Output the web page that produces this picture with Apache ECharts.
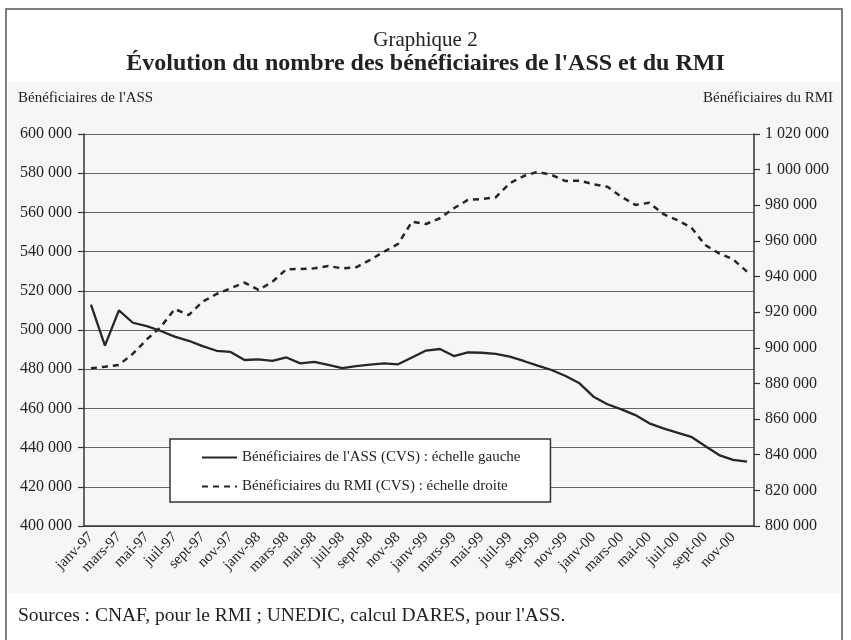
<!DOCTYPE html>
<html>
<head>
<meta charset="utf-8">
<script src="https://cdn.jsdelivr.net/npm/echarts@6/dist/echarts.min.js"></script>
<style>
  html, body { margin: 0; padding: 0; background: #fff; }
  #chart { width: 851px; height: 640px; }
</style>
</head>
<body>
<div id="chart"></div>
<script>
// mois, janv-97 a dec-00
var moisNoms = ['janv', 'févr', 'mars', 'avr', 'mai', 'juin', 'juil', 'août', 'sept', 'oct', 'nov', 'déc'];
var annees = ['97', '98', '99', '00'];
var mois = [];
annees.forEach(function (a) {
    moisNoms.forEach(function (m) { mois.push(m + '-' + a); });
});

// beneficiaires de l'ASS (echelle gauche)
var ass = [513000, 492000, 510000, 503700, 502000, 499500, 496600, 494500, 491800, 489400, 488800, 484700,
           485000, 484300, 486000, 483000, 483700, 482200, 480500, 481600, 482300, 483000, 482500, 486000,
           489500, 490300, 486700, 488600, 488400, 487800, 486400, 484200, 481800, 479600, 476500, 472800,
           466000, 462100, 459500, 456600, 452400, 449800, 447600, 445500, 440800, 436200, 433700, 432800];

// beneficiaires du RMI (echelle droite)
var rmi = [888500, 889400, 890400, 896700, 904700, 911700, 921800, 918400, 925900, 930200, 933400, 936600,
           932500, 937100, 944100, 944200, 944600, 945900, 944600, 945200, 949300, 954000, 958300, 970800,
           969500, 972700, 978300, 983000, 983500, 984500, 992300, 996400, 998800, 997000, 993600, 993800,
           991800, 990400, 984800, 980200, 981400, 975100, 971700, 967600, 957700, 953000, 949700, 942700];

var gaucheMin = 400000, gaucheMax = 600000;
var droiteMin = 800000, droiteMax = 1020000;
var pas = 20000;

var police = "'Liberation Serif', 'Times New Roman', serif";
var encre = '#222';

function milliers(v) {
    return String(v).replace(/\B(?=(\d{3})+(?!\d))/g, ' ');
}

var myChart = echarts.init(document.getElementById('chart'));
var option = {
    backgroundColor: '#fff',
    animation: false,
    title: {
        text: 'Graphique 2',
        subtext: "Évolution du nombre des bénéficiaires de l'ASS et du RMI",
        left: 'center',
        top: 30,
        padding: 0,
        itemGap: 1,
        textStyle: { fontFamily: police, fontSize: 21, fontWeight: 'normal', color: encre },
        subtextStyle: { fontFamily: police, fontSize: 24, fontWeight: 'bold', color: encre }
    },
    graphic: [
        {
            type: 'rect', z: -10, silent: true,
            shape: { x: 8, y: 82, width: 832, height: 511 },
            style: { fill: '#f6f6f6' }
        },
        {
            type: 'rect', z: -5, silent: true,
            shape: { x: 6, y: 9, width: 836, height: 700 },
            style: { fill: 'none', stroke: '#555', lineWidth: 1.5 }
        },
        {
            type: 'text', left: 18, top: 91,
            style: { text: "Bénéficiaires de l'ASS", font: '15px ' + police, fill: encre }
        },
        {
            type: 'text', right: 18, top: 91,
            style: { text: 'Bénéficiaires du RMI', font: '15px ' + police, fill: encre }
        },
        {
            type: 'text', left: 18, top: 606,
            style: { text: "Sources : CNAF, pour le RMI ; UNEDIC, calcul DARES, pour l'ASS.", font: '19.5px ' + police, fill: encre }
        }
    ],
    legend: {
        orient: 'vertical',
        left: 170,
        top: 439,
        backgroundColor: '#fff',
        borderColor: '#333',
        borderWidth: 1.5,
        borderRadius: 0,
        padding: [11, 30, 8, 31],
        itemGap: 14,
        itemWidth: 35,
        itemHeight: 14,
        itemStyle: { opacity: 0 },
        textStyle: { fontFamily: police, fontSize: 15, color: encre }
    },
    grid: { left: 84, right: 97, top: 134, bottom: 114 },
    xAxis: {
        type: 'category',
        data: mois,
        boundaryGap: true,
        axisLine: { lineStyle: { color: '#333', width: 1.5 } },
        axisTick: { interval: 1, length: 7, lineStyle: { color: '#333', width: 1.2 } },
        axisLabel: {
            interval: 1, rotate: 45, margin: 9,
            fontFamily: police, fontSize: 15, color: encre
        },
        splitLine: { show: false }
    },
    yAxis: [
        {
            type: 'value',
            min: gaucheMin, max: gaucheMax, interval: pas,
            axisLine: { show: true, lineStyle: { color: '#333', width: 1.5 } },
            axisTick: { show: true, length: 6, lineStyle: { color: '#333', width: 1.2 } },
            axisLabel: { margin: 12, fontFamily: police, fontSize: 16, color: encre, formatter: milliers },
            splitLine: { lineStyle: { color: '#666', width: 1.2 } }
        },
        {
            type: 'value',
            min: droiteMin, max: droiteMax, interval: pas,
            position: 'right',
            axisLine: { show: true, lineStyle: { color: '#333', width: 1.5 } },
            axisTick: { show: true, length: 6, lineStyle: { color: '#333', width: 1.2 } },
            axisLabel: { margin: 11, fontFamily: police, fontSize: 16, color: encre, formatter: milliers },
            splitLine: { show: false }
        }
    ],
    series: [
        {
            name: "Bénéficiaires de l'ASS (CVS) : échelle gauche",
            type: 'line',
            yAxisIndex: 0,
            data: ass,
            symbol: 'none',
            itemStyle: { color: '#262626' },
            lineStyle: { color: '#262626', width: 2.3, type: 'solid' }
        },
        {
            name: 'Bénéficiaires du RMI (CVS) : échelle droite',
            type: 'line',
            yAxisIndex: 1,
            data: rmi,
            symbol: 'none',
            itemStyle: { color: '#262626' },
            lineStyle: { color: '#262626', width: 2.5, type: [6, 5] }
        }
    ]
};
myChart.setOption(option);
</script>
</body>
</html>
